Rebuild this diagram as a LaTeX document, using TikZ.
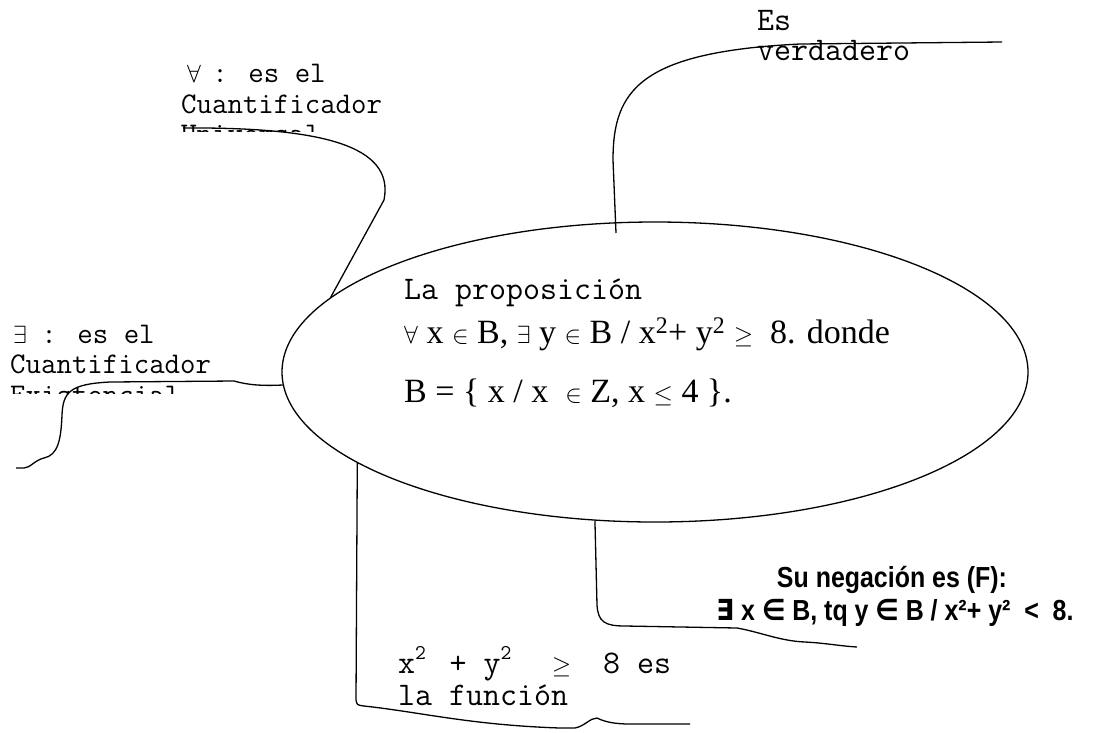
\documentclass[tikz,border=0pt]{standalone}
\usepackage{fontspec}
\usepackage{amsmath}
\setmainfont{Liberation Serif}
\newfontfamily\negfont[FakeStretch=0.86]{Liberation Sans}
\newfontfamily\symsans[FakeStretch=0.9]{DejaVu Sans}
\usetikzlibrary{shapes.geometric}

% one cell of the typewriter grid, and a raised 2 in it
\newcommand{\cell}[1]{\makebox[0.525em][l]{#1}}
\newcommand{\msq}{\cell{\raisebox{0.42em}{\fontsize{21}{21}\selectfont 2}}}

\begin{document}
\begin{tikzpicture}[
    x=1pt, y=-1pt,
    mono/.style={anchor=base west, inner sep=0, font=\fontsize{30}{33}\ttfamily},
    bigmono/.style={anchor=base west, inner sep=0, font=\fontsize{33}{36}\ttfamily},
    serif/.style={anchor=base west, inner sep=0, font=\fontsize{34}{40}\selectfont},
    neg/.style={anchor=base, inner sep=0, font=\fontsize{29}{34}\negfont\bfseries},
    link/.style={line width=1.3pt}
]
\useasboundingbox (0,0) rectangle (1094,732);

\node[draw, ellipse, line width=1.3pt, inner sep=0, minimum width=746pt, minimum height=300pt] (prop) at (655,372) {};

\node[bigmono] (propA) at (404,299) {La proposición};
\node[serif] (propB) at (404,343) {$\forall$ x $\in$ B, $\exists$ y $\in$ B / x\textsuperscript{2}+ y\textsuperscript{2} $\geq$ ~8. donde};
\node[serif] (propC) at (404,402) {B = \{ x / x ~$\in$ Z, x $\leq$ 4 \}.};

% labels, third lines cut off as in the picture
\begin{scope}
\clip (0,0) rectangle (600,131);
\node[mono] (univA) at (181,82) {\cell{\hspace{0.2em}$\forall$}~: es el};
\node[mono] (univB) at (181,113) {Cuantificador};
\node[mono] (univC) at (181,143) {Universal};
\end{scope}
\begin{scope}
\clip (0,300) rectangle (280,393);
\node[mono] (exisA) at (10,343) {\cell{\hspace{0.1em}$\exists$}~: es el};
\node[mono] (exisB) at (10,373) {Cuantificador};
\node[mono] (exisC) at (10,404) {Existencial};
\end{scope}

\node[bigmono] (verdA) at (757,30) {Es};
\node[bigmono] (verdB) at (757,60) {verdadero};

\node[bigmono] (funcA) at (398,673) {x\msq~+~y\msq~~\cell{$\geq$}~~8~es};
\node[bigmono] (funcB) at (398,705) {la función};

\node[neg] (negA) at (892,587) {Su negación es (F):};
\node[neg] (negB) at (895,620) {{\symsans ∃} x {\symsans ∈} B, tq y {\symsans ∈} B / x²+ y² ~<~ 8.};

\coordinate (univEnd) at (183,128);
\coordinate (verdEnd) at (1002,42);
\coordinate (verdTip) at (616,233);
\coordinate (exisEnd) at (16,468);
\coordinate (funcEnd) at (690,724);
\coordinate (negEnd) at (857,647);

\draw[link] (univEnd) .. controls (320,127) and (395,145) .. (384,200) -- (prop.167);
\draw[link] (verdEnd) -- (800,44) .. controls (640,52) and (613,90) .. (613,160) -- (verdTip);
\draw[link] (prop.182) .. controls (262,386) and (248,385) .. (234,381) -- (110,382)
    .. controls (70,384) and (63,392) .. (62,415) .. controls (61,440) and (58,455) .. (44,458)
    .. controls (35,460) and (30,468) .. (24,468) -- (exisEnd);
\draw[link] (prop.197) -- (356,700) .. controls (357,705) .. (364,706)
    .. controls (420,712) and (470,725) .. (560,728) -- (575,728)
    .. controls (585,726) and (590,718) .. (597,718) .. controls (605,722) and (615,724) .. (630,724) -- (funcEnd);
\draw[link] (prop.248) -- (597,605) .. controls (598,622) and (605,626) .. (625,626) -- (737,628)
    .. controls (760,632) and (780,641) .. (805,642) .. controls (825,643) and (840,646) .. (negEnd);
\end{tikzpicture}
\end{document}
